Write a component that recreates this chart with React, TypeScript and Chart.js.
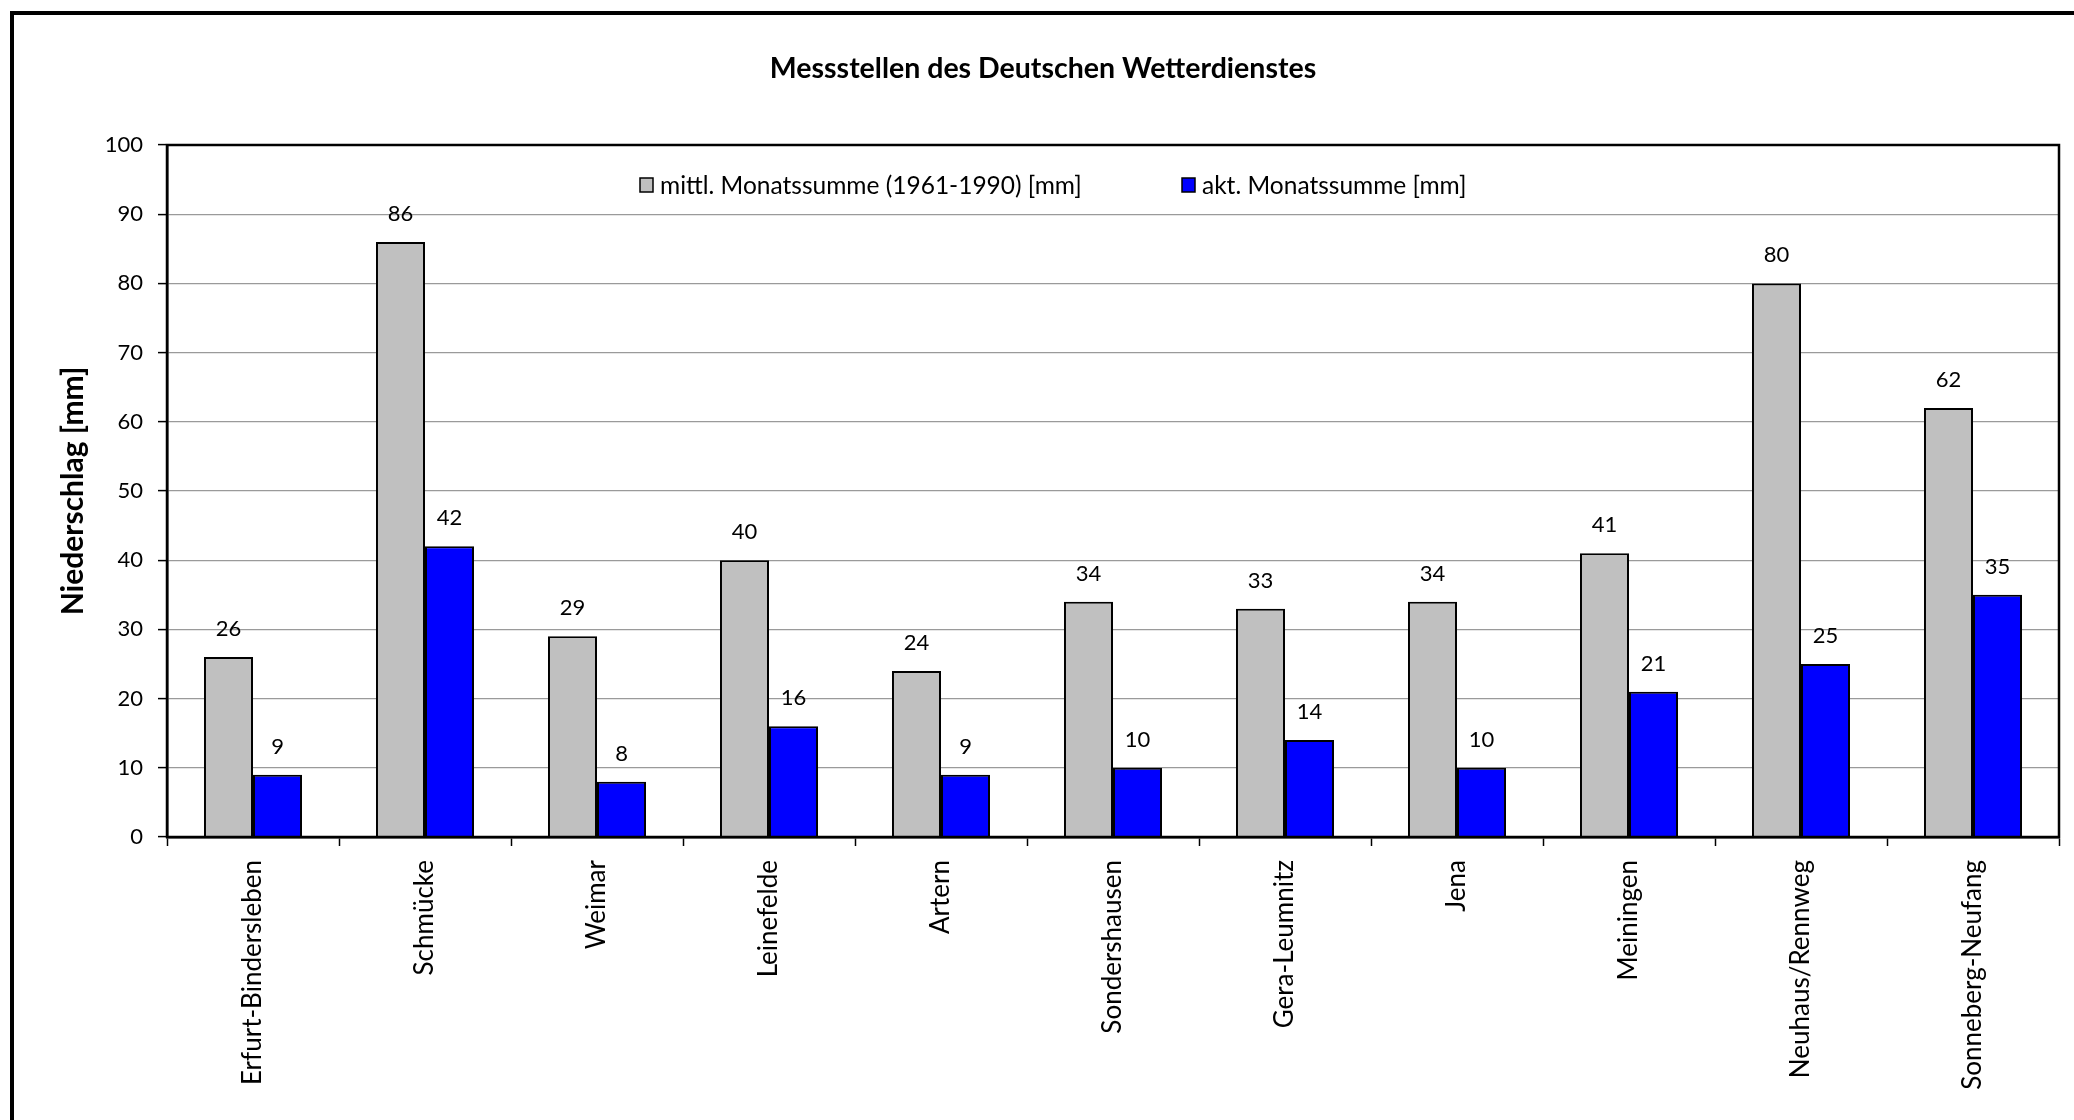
import React, { useEffect, useRef } from "react";
import { Chart, registerables } from "chart.js";

Chart.register(...registerables);

const TITLE = "Messstellen des Deutschen Wetterdienstes";
const Y_TITLE = "Niederschlag [mm]";
const categories = [
  "Erfurt-Bindersleben",
  "Schmücke",
  "Weimar",
  "Leinefelde",
  "Artern",
  "Sondershausen",
  "Gera-Leumnitz",
  "Jena",
  "Meiningen",
  "Neuhaus/Rennweg",
  "Sonneberg-Neufang",
];
const seriesMeanLabel = "mittl. Monatssumme (1961-1990) [mm]";
const seriesMean = [26, 86, 29, 40, 24, 34, 33, 34, 41, 80, 62];
const seriesActualLabel = "akt. Monatssumme [mm]";
const seriesActual = [9, 42, 8, 16, 9, 10, 14, 10, 21, 25, 35];
const yTicks = { min: 0, max: 100, step: 10 };

const FONT = "Lato, 'Open Sans', sans-serif";
const W = 2074;
const H = 1120;

const decorPlugin = {
  id: "decor",
  afterDatasetsDraw(chart: any) {
    const { ctx, chartArea } = chart;
    ctx.save();
    // plot area frame
    ctx.strokeStyle = "#000";
    ctx.lineWidth = 2.5;
    ctx.strokeRect(chartArea.left, chartArea.top, chartArea.right - chartArea.left, chartArea.bottom - chartArea.top);

    // data labels
    ctx.fillStyle = "#000";
    ctx.font = `22px ${FONT}`;
    ctx.textAlign = "center";
    ctx.textBaseline = "alphabetic";
    chart.data.datasets.forEach((ds: any, i: number) => {
      const meta = chart.getDatasetMeta(i);
      meta.data.forEach((el: any, j: number) => {
        ctx.fillText(String(ds.data[j]), el.x, el.y - 21);
      });
    });

    // legend
    const legendY = chartArea.top + 40;
    const items = [
      { x: chartArea.left + 473, ds: chart.data.datasets[0] },
      { x: chartArea.left + 1015, ds: chart.data.datasets[1] },
    ];
    ctx.font = `24.5px ${FONT}`;
    ctx.textAlign = "left";
    ctx.textBaseline = "middle";
    items.forEach((it) => {
      ctx.fillStyle = it.ds.backgroundColor;
      ctx.fillRect(it.x, legendY - 7, 13, 14);
      ctx.strokeStyle = "#000";
      ctx.lineWidth = 1.5;
      ctx.strokeRect(it.x, legendY - 7, 13, 14);
      ctx.fillStyle = "#000";
      ctx.fillText(it.ds.label, it.x + 20, legendY + 1);
    });

    // chart title
    ctx.font = `bold 28.5px ${FONT}`;
    ctx.textAlign = "center";
    ctx.textBaseline = "middle";
    ctx.fillText(TITLE, 1043, 69);

    // y axis title
    ctx.translate(73, (chartArea.top + chartArea.bottom) / 2);
    ctx.rotate(-Math.PI / 2);
    ctx.font = `bold 30px ${FONT}`;
    ctx.fillText(Y_TITLE, 0, 0);
    ctx.restore();
  },
};

export default function App() {
  const ref = useRef<HTMLCanvasElement | null>(null);
  useEffect(() => {
    if (!ref.current) return;
    Chart.defaults.font.family = FONT;
    const chart = new Chart(ref.current, {
      type: "bar",
      data: {
        labels: categories,
        datasets: [
          {
            label: seriesMeanLabel,
            data: seriesMean,
            backgroundColor: "#C0C0C0",
            borderColor: "#000",
            borderWidth: 2,
            categoryPercentage: 0.57,
            barPercentage: 1,
          },
          {
            label: seriesActualLabel,
            data: seriesActual,
            backgroundColor: "#0000FF",
            borderColor: "#000",
            borderWidth: 2,
            categoryPercentage: 0.57,
            barPercentage: 1,
          },
        ],
      },
      options: {
        responsive: false,
        animation: false,
        devicePixelRatio: 1,
        layout: { padding: { top: 145, right: 15, left: 0, bottom: 0 } },
        plugins: {
          legend: { display: false },
          title: { display: false },
          tooltip: { enabled: false },
        },
        scales: {
          x: {
            afterFit: (scale: any) => {
              scale.height = H - 837;
            },
            grid: {
              display: true,
              drawOnChartArea: false,
              drawTicks: true,
              tickLength: 9,
              tickColor: "#000",
              tickWidth: 1.5,
              offset: true,
            },
            border: { display: true, color: "#000", width: 2.5 },
            ticks: {
              autoSkip: false,
              minRotation: 90,
              maxRotation: 90,
              padding: 14,
              color: "#000",
              font: { size: 26, family: FONT },
            },
          },
          y: {
            min: yTicks.min,
            max: yTicks.max,
            afterFit: (scale: any) => {
              scale.width = 167;
            },
            grid: {
              color: "#9a9a9a",
              lineWidth: 1.2,
              tickColor: "#000",
              tickLength: 9,
              tickWidth: 1.5,
            },
            border: { display: true, color: "#000", width: 2.5 },
            ticks: {
              stepSize: yTicks.step,
              padding: 15,
              color: "#000",
              font: { size: 22, family: FONT },
            },
          },
        },
      },
      plugins: [decorPlugin],
    });
    return () => chart.destroy();
  }, []);

  return (
    <div style={{ position: "fixed", left: 0, top: 0, width: W, height: H, overflow: "hidden", background: "#fff" }}>
      <div
        style={{
          position: "absolute",
          left: 10,
          top: 11,
          width: 3000,
          height: 3000,
          border: "4px solid #000",
        }}
      />
      <canvas ref={ref} width={W} height={H} style={{ position: "absolute", left: 0, top: 0, width: W, height: H }} />
    </div>
  );
}
